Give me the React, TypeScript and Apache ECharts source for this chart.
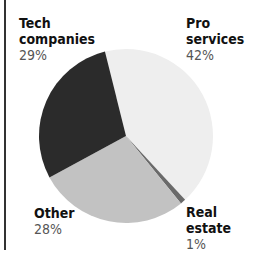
import React, { useEffect, useRef } from "react";
import * as echarts from "echarts";

const categories = ["Pro services", "Real estate", "Other", "Tech companies"];
const values = [42, 1, 28, 29];
const sliceColors = ["#eeeeee", "#6a6a6a", "#c2c2c2", "#2b2b2b"];
const labelLines: string[][] = [["Pro", "services"], ["Real", "estate"], ["Other"], ["Tech", "companies"]];
const labelPos: number[][] = [[186, 16], [186, 205], [34, 206], [19, 16]];

export default function App() {
  const ref = useRef<HTMLDivElement>(null);
  useEffect(() => {
    if (!ref.current) return;
    const chart = echarts.init(ref.current, undefined, { renderer: "svg" });
    const font = '"DejaVu Sans Condensed", "Liberation Sans Narrow", sans-serif';
    const graphics: any[] = [
      { type: "rect", shape: { x: 4, y: 0, width: 2, height: 250 }, style: { fill: "#333" } },
    ];
    categories.forEach((c, i) => {
      const [x, y] = labelPos[i];
      const lines = labelLines[i];
      lines.forEach((ln, j) => {
        graphics.push({
          type: "text",
          x,
          y: y + j * 16,
          style: {
            text: ln,
            font: `bold 14px ${font}`,
            fill: "#111111",
          },
        });
      });
      graphics.push({
        type: "text",
        x,
        y: y + lines.length * 16,
        style: {
          text: values[i] + "%",
          font: `14px ${font}`,
          fill: "#555",
        },
      });
    });
    chart.setOption({
      animation: false,
      backgroundColor: "#ffffff",
      graphic: graphics,
      series: [
        {
          type: "pie",
          center: [126, 136],
          radius: [0, 87],
          startAngle: 104,
          clockwise: true,
          label: { show: false },
          labelLine: { show: false },
          itemStyle: { borderWidth: 0 },
          emphasis: { disabled: true },
          data: categories.map((c, i) => ({ name: c, value: values[i], itemStyle: { color: sliceColors[i] } })),
        },
      ],
    });
    return () => chart.dispose();
  }, []);
  return <div ref={ref} style={{ position: "fixed", left: 0, top: 0, width: 253, height: 255 }} />;
}
